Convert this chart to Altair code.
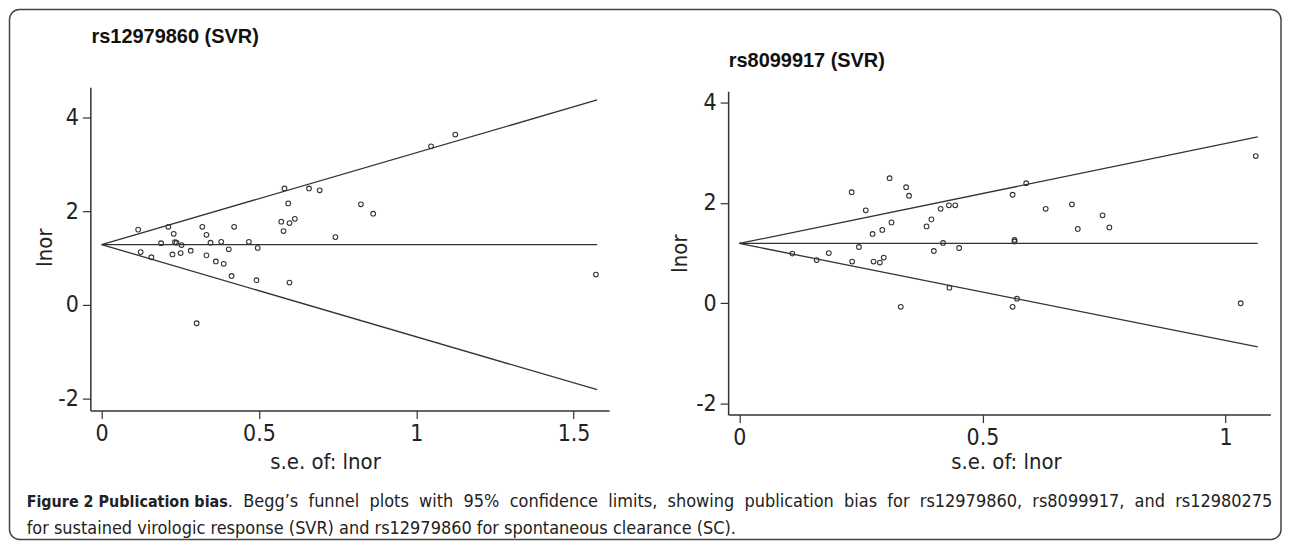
import altair as alt
import pandas as pd

# ---------------- data ----------------
left_se = [0.116, 0.124, 0.158, 0.189, 0.212, 0.229, 0.225, 0.233, 0.238, 0.251,
           0.254, 0.283, 0.302, 0.320, 0.333, 0.333, 0.346, 0.363, 0.380, 0.388,
           0.404, 0.413, 0.421, 0.468, 0.492, 0.496, 0.571, 0.578, 0.581, 0.593,
           0.597, 0.597, 0.614, 0.659, 0.693, 0.743, 0.824, 0.863, 1.047, 1.124,
           1.571]
left_lnor = [1.61, 1.13, 1.02, 1.32, 1.67, 1.52, 1.08, 1.34, 1.33, 1.11,
             1.28, 1.16, -0.39, 1.67, 1.50, 1.06, 1.33, 0.93, 1.35, 0.88,
             1.19, 0.62, 1.67, 1.35, 0.53, 1.22, 1.78, 1.58, 2.49, 2.17,
             1.75, 0.48, 1.84, 2.49, 2.45, 1.45, 2.15, 1.95, 3.39, 3.64,
             0.65]
# funnel (pooled estimate and 95% limits), read at se = 0 and at the line end
left_line_se = [0.0, 1.575]
left_upper = [1.29, 4.38]
left_lower = [1.29, -1.81]
left_mid = [1.29, 1.29]

right_se = [0.109, 0.159, 0.184, 0.231, 0.232, 0.246, 0.260, 0.274, 0.276, 0.289,
            0.294, 0.297, 0.313, 0.309, 0.332, 0.343, 0.349, 0.385, 0.395, 0.400,
            0.414, 0.419, 0.431, 0.432, 0.444, 0.452, 0.562, 0.562, 0.566, 0.566,
            0.571, 0.590, 0.630, 0.684, 0.696, 0.747, 0.761, 1.031, 1.062]
right_lnor = [0.99, 0.86, 1.00, 2.21, 0.83, 1.12, 1.85, 1.38, 0.83, 0.81,
              1.46, 0.91, 1.61, 2.49, -0.07, 2.31, 2.14, 1.53, 1.67, 1.04,
              1.88, 1.20, 1.95, 0.31, 1.95, 1.10, 2.16, -0.07, 1.23, 1.26,
              0.09, 2.39, 1.88, 1.97, 1.48, 1.75, 1.51, 0.00, 2.93]
right_line_se = [0.0, 1.066]
right_upper = [1.19, 3.31]
right_lower = [1.19, -0.87]
right_mid = [1.19, 1.19]

left_xticks = [0, 0.5, 1, 1.5]
right_xticks = [0, 0.5, 1]
yticks = [-2, 0, 2, 4]

title_left = "rs12979860 (SVR)"
title_right = "rs8099917 (SVR)"
x_title = "s.e. of: lnor"
y_title = "lnor"
cap_bold = "Figure 2 Publication bias"
cap_rest1 = ". Begg\u2019s funnel plots with 95% confidence limits, showing publication bias for rs12979860, rs8099917, and rs12980275"
cap_line2 = "for sustained virologic response (SVR) and rs12979860 for spontaneous clearance (SC)."

# ---------------- layout ----------------
W, H = 1278, 533
COND = "DejaVu Sans Condensed, Liberation Sans, sans-serif"
INK = "#333333"


def lines_df(lse, up, lo, mid):
    rows = []
    for name, vals in (("upper", up), ("lower", lo), ("mid", mid)):
        for s, v in zip(lse, vals):
            rows.append({"se": s, "v": v, "grp": name})
    return pd.DataFrame(rows)


def panel(se, lnor, lse, up, lo, mid, xdom, xr, ydom, yr, xt,
          xtitle_x, xtitle_y, ytitle_x, ytitle_y):
    xs = alt.Scale(domain=xdom, range=xr, nice=False, zero=False)
    ys = alt.Scale(domain=ydom, range=yr, nice=False, zero=False)
    xax = alt.Axis(orient="bottom", offset=-(H - yr[0]), values=xt,
                   labelExpr="toString(datum.value)", title=x_title,
                   titleX=xtitle_x, titleY=xtitle_y, titleAlign="center",
                   titleBaseline="middle")
    yax = alt.Axis(orient="left", offset=-xr[0], values=yticks,
                   labelExpr="toString(datum.value)", title=y_title,
                   titleX=ytitle_x, titleY=ytitle_y, titleAngle=270,
                   titleAlign="center", titleBaseline="middle")
    ln = alt.Chart(lines_df(lse, up, lo, mid)).mark_line(
        color=INK, strokeWidth=1.3
    ).encode(
        x=alt.X("se:Q", scale=xs, axis=xax),
        y=alt.Y("v:Q", scale=ys, axis=yax),
        detail="grp:N",
    )
    pts = alt.Chart(pd.DataFrame({"se": se, "v": lnor})).mark_point(
        shape="circle", filled=False, size=22, color=INK, strokeWidth=1.1, opacity=1
    ).encode(
        x=alt.X("se:Q", scale=xs, axis=xax),
        y=alt.Y("v:Q", scale=ys, axis=yax),
    )
    return alt.layer(ln, pts)


left = panel(left_se, left_lnor, left_line_se, left_upper, left_lower, left_mid,
             [-0.036, 1.613], [82.6, 603.0], [-2.255, 4.65], [403.0, 78.7],
             left_xticks, 318, 50.7, -45.6, 239)
right = panel(right_se, right_lnor, right_line_se, right_upper, right_lower, right_mid,
              [-0.023, 1.092], [722.4, 1266.3], [-2.216, 4.22], [407.0, 82.7],
              right_xticks, 1001, 46.7, -48.9, 245)


def text(t, x, y, size, weight="normal", font=COND, color="#222222"):
    return alt.Chart(pd.DataFrame({"t": [t]})).mark_text(
        align="left", baseline="middle", font=font, fontSize=size,
        fontWeight=weight, color=color
    ).encode(text="t:N", x=alt.value(x), y=alt.value(y))


# the first caption line is justified in the reference: widen its word gaps
cap_rest1_justified = cap_rest1.replace(" ", "\u00a0 ")

frame = alt.Chart(pd.DataFrame({"a": [0]})).mark_rect(
    fill="#ffffff", fillOpacity=0, stroke="#444444", strokeWidth=1.5, cornerRadius=10
).encode(x=alt.value(1.5), x2=alt.value(W - 1), y=alt.value(0.75), y2=alt.value(H - 0.75))

chart = alt.layer(
    frame,
    left,
    right,
    text(title_left, 83.8, 28.7, 20, "bold", "Liberation Sans, Arial, sans-serif", "#111111"),
    text(title_right, 723, 52, 20, "bold", "Liberation Sans, Arial, sans-serif", "#111111"),
    text(cap_bold, 18.7, 495, 16, "bold"),
    text(cap_rest1_justified, 220.5, 495, 18),
    text(cap_line2, 18.7, 522, 18),
).resolve_scale(x="independent", y="independent").properties(
    width=W, height=H, padding=0, autosize="none"
).configure_view(strokeWidth=0).configure_axis(
    grid=False,
    domainColor=INK, domainWidth=1.5,
    tickColor=INK, tickWidth=1.2, tickSize=8,
    labelFont=COND, labelFontSize=23, labelColor="#222222", labelPadding=4,
    titleFont=COND, titleFontSize=22, titleFontWeight="normal", titleColor="#222222",
)

chart.save("out.html", embed_options={"renderer": "svg", "actions": False})
